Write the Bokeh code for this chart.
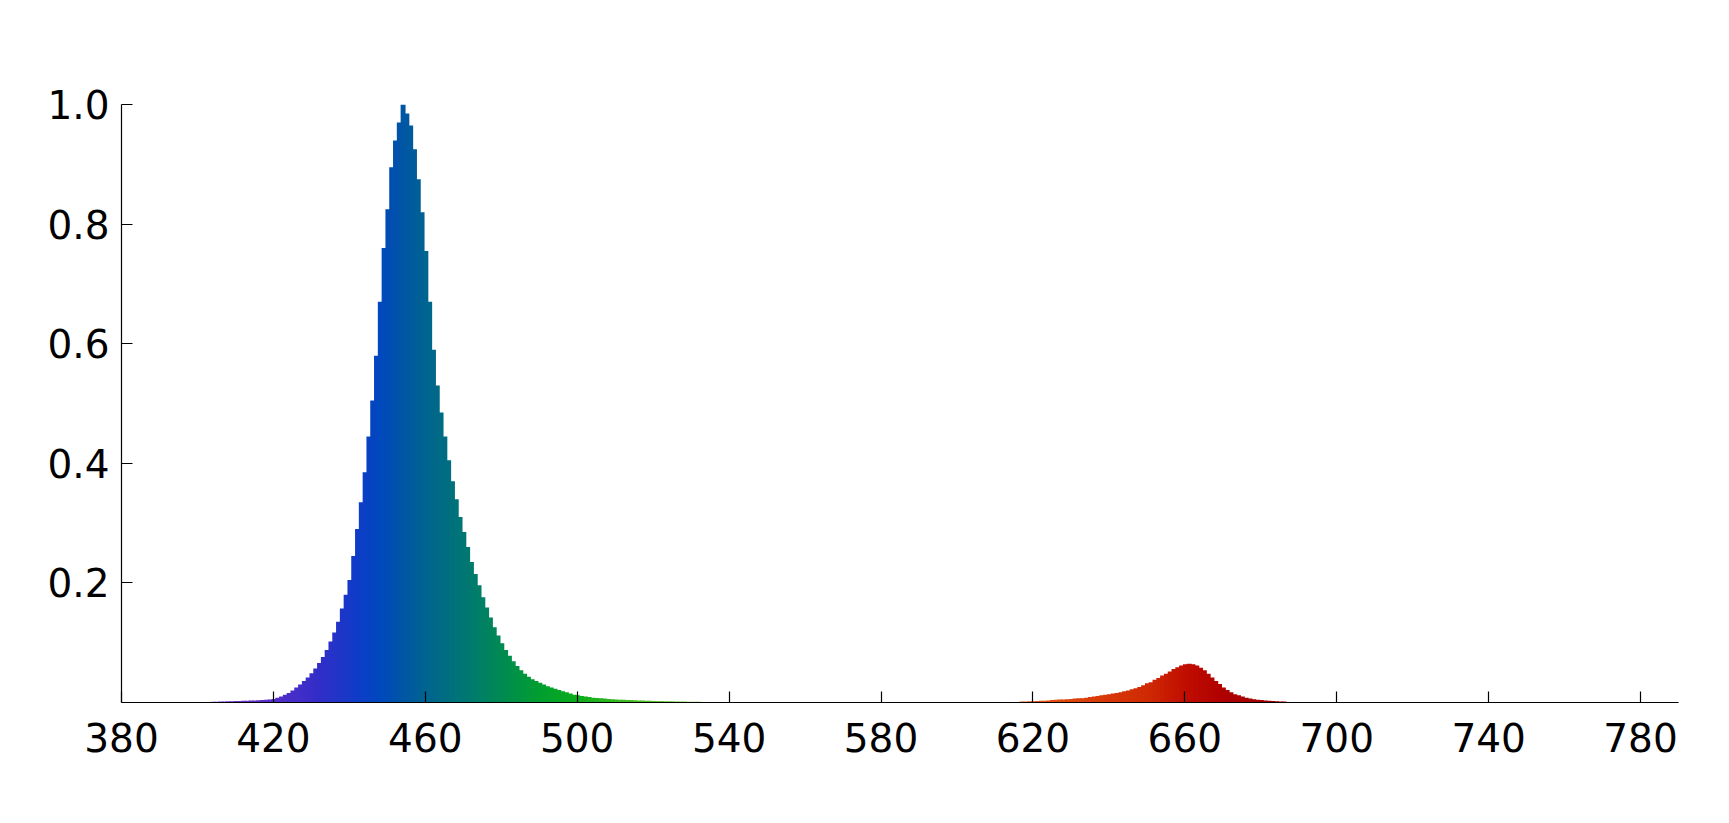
import numpy as np
from bokeh.plotting import figure
from bokeh.models import ColumnDataSource, FixedTicker, PrintfTickFormatter, Range1d
from bokeh.embed import file_html
from bokeh.resources import INLINE

# ---- data ----
blue_wl = list(range(399, 537))
blue_val = [
    0.001, 0.001, 0.001, 0.001, 0.001, 0.0012, 0.0014, 0.0016, 0.0018, 0.002,   # 399-408
    0.0022, 0.0024, 0.0026, 0.0028, 0.003, 0.0032, 0.0035, 0.0038, 0.0042, 0.0046,  # 409-418
    0.005, 0.006, 0.008, 0.010, 0.013, 0.016, 0.020, 0.025, 0.030, 0.036,   # 419-428
    0.042, 0.049, 0.057, 0.066, 0.076, 0.088, 0.102, 0.117, 0.135, 0.157,   # 429-438
    0.180, 0.205, 0.245, 0.290, 0.335, 0.385, 0.445, 0.505, 0.58, 0.67,     # 439-448
    0.76, 0.825, 0.895, 0.94, 0.97, 1.0, 0.985, 0.965, 0.925, 0.875,        # 449-458
    0.82, 0.755, 0.67, 0.59, 0.53, 0.485, 0.445, 0.405, 0.37, 0.34,         # 459-468
    0.31, 0.285, 0.26, 0.235, 0.215, 0.196, 0.176, 0.159, 0.142, 0.126,     # 469-478
    0.112, 0.099, 0.088, 0.078, 0.069, 0.061, 0.054, 0.048, 0.043, 0.039,   # 479-488
    0.036, 0.033, 0.030, 0.027, 0.025, 0.023, 0.021, 0.019, 0.017, 0.015,   # 489-498
    0.013, 0.012, 0.011, 0.010, 0.009, 0.008, 0.0075, 0.007, 0.0065, 0.006, # 499-508
    0.0055, 0.005, 0.0048, 0.0045, 0.0042, 0.004, 0.0037, 0.0035, 0.0033, 0.003,  # 509-518
    0.0028, 0.0026, 0.0025, 0.0023, 0.0022, 0.002, 0.0019, 0.0018, 0.0017, 0.0015,  # 519-528
    0.0014, 0.0013, 0.0012, 0.0011, 0.001, 0.001, 0.001, 0.001,            # 529-536
]
red_wl = list(range(614, 689))
red_val = [
    0.001, 0.001, 0.001, 0.0015, 0.0015, 0.002, 0.002, 0.0025, 0.003, 0.003,     # 614-623
    0.0035, 0.004, 0.0045, 0.005, 0.005, 0.0055, 0.006, 0.0065, 0.007, 0.007,    # 624-633
    0.008, 0.009, 0.010, 0.011, 0.012, 0.013, 0.014, 0.015, 0.016, 0.017,        # 634-643
    0.019, 0.020, 0.022, 0.024, 0.026, 0.029, 0.032, 0.034, 0.038, 0.041,        # 644-653
    0.045, 0.048, 0.052, 0.056, 0.059, 0.062, 0.064, 0.065, 0.064, 0.062,        # 654-663
    0.058, 0.054, 0.048, 0.042, 0.036, 0.031, 0.025, 0.021, 0.017, 0.014,        # 664-673
    0.012, 0.010, 0.008, 0.0065, 0.0055, 0.0045, 0.004, 0.0035, 0.003, 0.0025,   # 674-683
    0.002, 0.0015, 0.0015, 0.001, 0.001,                                          # 684-688
]
x_ticks = [380, 420, 460, 500, 540, 580, 620, 660, 700, 740, 780]
y_ticks = [0.2, 0.4, 0.6, 0.8, 1.0]

# ---- colour ramp (style) ----
stops_wl = [395, 420, 432, 442, 448, 454, 460, 466, 472, 480, 490, 500, 515, 540,
            610, 620, 635, 650, 660, 670, 690]
stops_rgb = [
    (150, 70, 215), (85, 45, 200), (50, 45, 200), (15, 60, 200), (0, 72, 190),
    (0, 85, 165), (0, 100, 145), (0, 110, 128), (0, 122, 110), (0, 138, 82),
    (0, 158, 48), (12, 172, 28), (70, 190, 35), (170, 215, 90),
    (235, 130, 40), (228, 85, 20), (218, 62, 10), (208, 42, 4), (192, 14, 0),
    (175, 0, 0), (150, 0, 0),
]
sr = np.array(stops_rgb, dtype=float)


def colour(w):
    r = np.interp(w, stops_wl, sr[:, 0])
    g = np.interp(w, stops_wl, sr[:, 1])
    b = np.interp(w, stops_wl, sr[:, 2])
    return "#%02x%02x%02x" % (int(round(r)), int(round(g)), int(round(b)))


wl = blue_wl + red_wl
val = blue_val + red_val
src = ColumnDataSource(dict(
    left=[w - 0.5 for w in wl],
    right=[w + 0.8 for w in wl],
    top=val,
    color=[colour(w) for w in wl],
))

p = figure(
    output_backend="svg", toolbar_location=None,
    frame_width=1557, frame_height=598,
    min_border_left=121, min_border_right=32, min_border_top=104, min_border_bottom=95,
    x_range=Range1d(380, 790), y_range=Range1d(0, 1.0),
)
p.quad(left="left", right="right", bottom=0, top="top", source=src,
       fill_color="color", line_color=None)

p.xgrid.visible = False
p.ygrid.visible = False
p.outline_line_color = None
p.background_fill_color = "white"
p.border_fill_color = "white"

for ax in (p.xaxis[0], p.yaxis[0]):
    ax.axis_line_color = "black"
    ax.axis_line_width = 1.2
    ax.major_tick_line_color = "black"
    ax.major_tick_line_width = 1.2
    ax.major_tick_in = 11
    ax.major_tick_out = 0
    ax.minor_tick_line_color = None
    ax.major_label_text_font = "DejaVu Sans"
    ax.major_label_text_font_size = "39px"
    ax.major_label_text_color = "black"

p.xaxis.ticker = FixedTicker(ticks=x_ticks)
p.yaxis.ticker = FixedTicker(ticks=y_ticks)
p.yaxis.formatter = PrintfTickFormatter(format="%.1f")
p.xaxis.major_label_standoff = 20
p.yaxis.major_label_standoff = 12

open("out.html", "w").write(file_html(p, INLINE))
